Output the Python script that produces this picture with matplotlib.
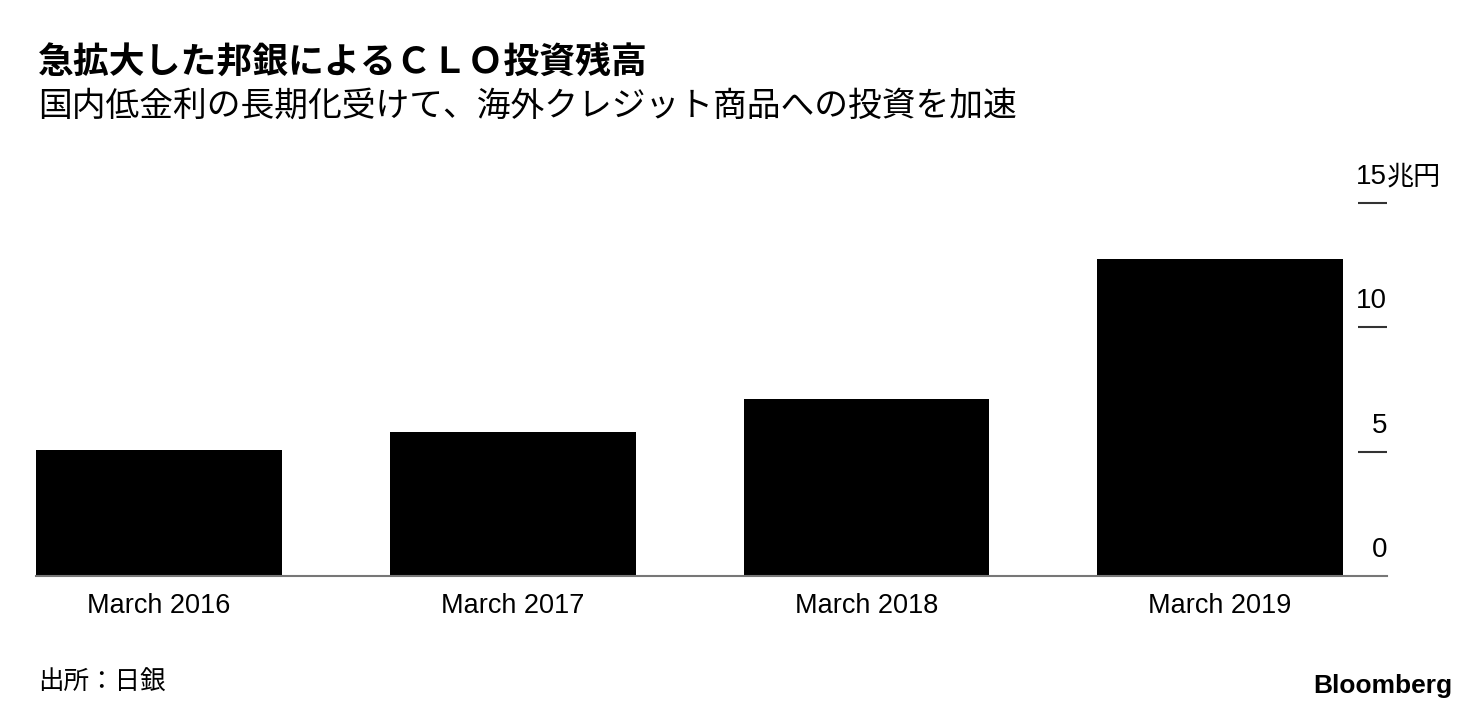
import matplotlib.pyplot as plt
from matplotlib.transforms import blended_transform_factory

# Data
periods = ["March 2016", "March 2017", "March 2018", "March 2019"]
clo_balance = [5.07, 5.79, 7.12, 12.73]  # 兆円
yticks = [0, 5, 10, 15]

plt.rcParams['font.family'] = ['Liberation Sans', 'Noto Sans CJK JP', 'DejaVu Sans']

fig = plt.figure(figsize=(14.8, 7.12), dpi=100)
ax = fig.add_axes([36 / 1480, 136 / 712, 1351 / 1480, 373 / 712])

x = list(range(len(periods)))
ax.bar(x, clo_balance, width=0.695, color="black", zorder=2)
ax.set_xlim(-0.348, 3.472)
ax.set_ylim(0, 15)

for s in ["top", "left", "right"]:
    ax.spines[s].set_visible(False)
ax.spines["bottom"].set_color("#777777")
ax.spines["bottom"].set_linewidth(1.5)
ax.spines["bottom"].set_zorder(3)

ax.set_xticks(x)
ax.set_xticklabels(periods, fontsize=19.5)
ax.tick_params(axis="x", length=0, pad=12)

# y ticks: short lines at the right edge, labels above them
ax.yaxis.tick_right()
ax.set_yticks(yticks[1:])
ax.set_yticklabels([])
ax.tick_params(axis="y", direction="in", length=21, width=1.5, color="#333333")

tr = blended_transform_factory(ax.transAxes, ax.transData)
off = 26 / 24.87
for v in yticks:
    ax.text(1.0, v + off, str(v), transform=tr, ha="right", va="center", fontsize=20)
ax.text(1.0, yticks[-1] + off, "兆円", transform=tr, ha="left", va="center",
        fontsize=19.5, family=['Noto Sans CJK JP'])

# titles
fig.text(38 / 1480, 1 - 62 / 712, "急拡大した邦銀によるＣＬＯ投資残高", fontsize=25.8,
         fontweight="bold", va="center", ha="left", family=['Noto Sans CJK JP'])
fig.text(38 / 1480, 1 - 106 / 712, "国内低金利の長期化受けて、海外クレジット商品への投資を加速",
         fontsize=24.3, va="center", ha="left", family=['Noto Sans CJK JP'])

# footer
fig.text(38 / 1480, 1 - 683 / 712, "出所：日銀", fontsize=18.4, va="center", ha="left",
         family=['Noto Sans CJK JP'])
fig.text(1452 / 1480, 1 - 686 / 712, "Bloomberg", fontsize=19, fontweight="bold",
         va="center", ha="right")

fig.savefig("out.png", dpi=100)
